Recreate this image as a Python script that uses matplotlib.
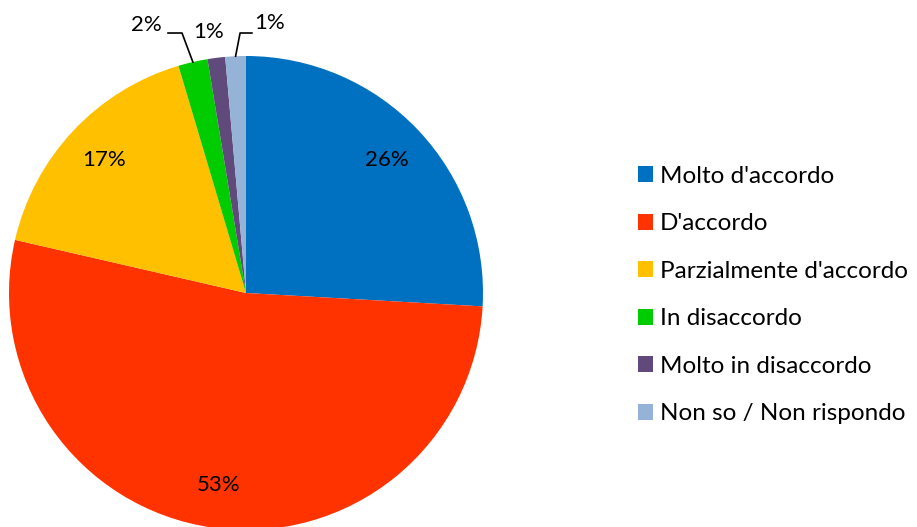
import numpy as np
import matplotlib.pyplot as plt
from matplotlib.patches import Patch

plt.rcParams['font.family'] = ['Lato', 'DejaVu Sans']

categorie = ["Molto d'accordo", "D'accordo", "Parzialmente d'accordo",
             "In disaccordo", "Molto in disaccordo", "Non so / Non rispondo"]
valori = [25.9, 52.7, 16.8, 2.0, 1.2, 1.4]
colori = ['#0070C0', '#FF3300', '#FFC000', '#00CC00', '#604A7B', '#95B3D7']

fig = plt.figure(figsize=(9.17, 5.27), dpi=100)
ax = fig.add_axes([9 / 917, -3 / 527, 474 / 917, 474 / 527])

wedges, _ = ax.pie(valori, colors=colori, startangle=90, counterclock=False,
                   radius=1, wedgeprops=dict(linewidth=0))
ax.set_xlim(-1, 1)
ax.set_ylim(-1, 1)
ax.set_aspect('equal')
ax.axis('off')

tot = sum(valori)
perc = ['%.0f%%' % (v / tot * 100) for v in valori]
fs = 16

# etichette interne per le fette grandi
for w, p in list(zip(wedges, perc))[:3]:
    a = np.deg2rad((w.theta1 + w.theta2) / 2)
    ax.text(0.82 * np.cos(a), 0.82 * np.sin(a), p, ha='center', va='center',
            fontsize=fs)

# etichette esterne per le fette piccole
def punto(w, r=1.0):
    a = np.deg2rad((w.theta1 + w.theta2) / 2)
    return r * np.cos(a), r * np.sin(a)

# 2%
x0, y0 = punto(wedges[3])
ax.plot([x0, -0.270, -0.329], [y0, 1.097, 1.097], color='black', lw=1.2,
        clip_on=False)
ax.text(-0.422, 1.131, perc[3], ha='center', va='center', fontsize=fs)
# 1% viola
ax.text(-0.160, 1.101, perc[4], ha='center', va='center', fontsize=fs)
# 1% azzurro
x0, y0 = punto(wedges[5])
ax.plot([x0, -0.025, 0.025], [y0, 1.097, 1.097], color='black', lw=1.2,
        clip_on=False)
ax.text(0.101, 1.139, perc[5], ha='center', va='center', fontsize=fs)

handles = [Patch(facecolor=c, edgecolor='none') for c in colori]
fig.legend(handles, categorie, loc='center left', bbox_to_anchor=(628 / 917, 0.440),
           frameon=False, fontsize=17.5, handlelength=0.62, handleheight=0.62,
           handletextpad=0.29, labelspacing=1.09, borderaxespad=0)

fig.savefig('out.png', dpi=100)
